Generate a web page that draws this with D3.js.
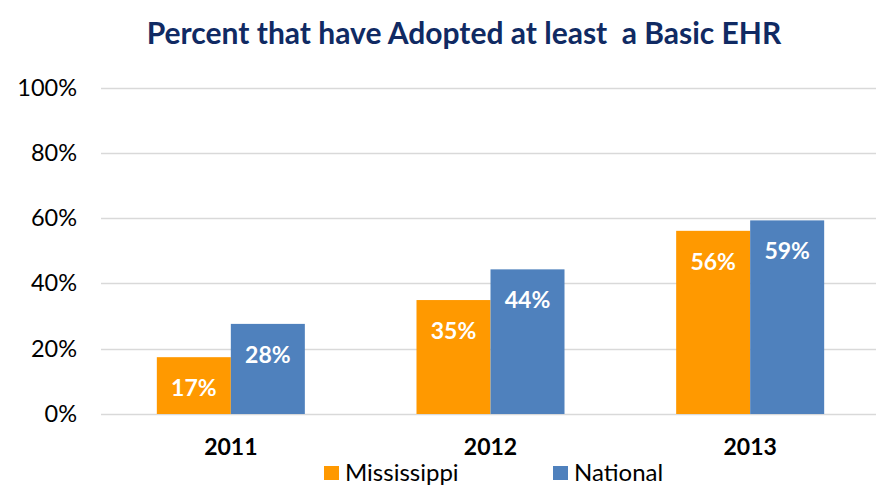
<!DOCTYPE html>
<html>
<head>
<meta charset="utf-8">
<script src="https://cdn.jsdelivr.net/npm/d3@7"></script>
<style>
  body { margin: 0; background: #fff; }
  svg { display: block; font-family: Lato, "Open Sans", sans-serif; }
</style>
</head>
<body>
<script>
const years = ["2011", "2012", "2013"];
const seriesNames = ["Mississippi", "National"];
const mississippi = [0.174, 0.349, 0.561];
const national = [0.276, 0.443, 0.593];
const yTicks = [0, 0.2, 0.4, 0.6, 0.8, 1.0];

const width = 876;
const height = 487;
const colors = { Mississippi: "#FF9900", National: "#4F81BD" };

const svg = d3.select("body")
    .append("svg")
    .attr("width", width)
    .attr("height", height);

const y = d3.scaleLinear()
    .domain([0, 1])
    .range([414, 87.5]);

const x0 = d3.scaleBand()
    .domain(years)
    .range([101, 880]);

const bw = x0.bandwidth();
const x1 = d3.scaleBand()
    .domain(seriesNames)
    .range([bw * 0.215, bw * 0.785]);

const rows = years.map((yr, i) => ({
    year: yr,
    values: [
        { name: "Mississippi", value: mississippi[i] },
        { name: "National", value: national[i] }
    ]
}));

// title
svg.append("text")
    .attr("x", 464)
    .attr("y", 44)
    .attr("text-anchor", "middle")
    .attr("font-size", 30)
    .attr("font-weight", "bold")
    .attr("fill", "#102A63")
    .attr("xml:space", "preserve")
    .text("Percent that have Adopted at least  a Basic EHR");

// gridlines
svg.append("g")
    .selectAll("line")
    .data(yTicks)
    .enter()
    .append("line")
    .attr("x1", 101)
    .attr("x2", width)
    .attr("y1", d => Math.round(y(d)) + 0.5)
    .attr("y2", d => Math.round(y(d)) + 0.5)
    .attr("stroke", "#D9D9D9")
    .attr("stroke-width", 1.5);

const yAxis = d3.axisLeft(y)
    .tickValues(yTicks)
    .tickFormat(d3.format(".0%"))
    .tickSize(0)
    .tickPadding(0);

svg.append("g")
    .attr("transform", "translate(77,0)")
    .call(yAxis)
    .call(g => g.select(".domain").remove())
    .call(g => g.selectAll("text")
        .attr("font-size", 23.5)
        .attr("font-family", "Lato, sans-serif")
        .attr("fill", "#000"));

const groups = svg.append("g")
    .selectAll("g")
    .data(rows)
    .enter()
    .append("g")
    .attr("transform", d => `translate(${x0(d.year)},0)`);

groups.selectAll("rect")
    .data(d => d.values)
    .enter()
    .append("rect")
    .attr("x", d => x1(d.name))
    .attr("y", d => y(d.value))
    .attr("width", x1.bandwidth())
    .attr("height", d => y(0) - y(d.value))
    .attr("fill", d => colors[d.name]);

groups.selectAll("text")
    .data(d => d.values)
    .enter()
    .append("text")
    .attr("x", d => x1(d.name) + x1.bandwidth() / 2)
    .attr("y", d => y(d.value) + 39)
    .attr("text-anchor", "middle")
    .attr("font-size", 23)
    .attr("font-weight", "bold")
    .attr("fill", "#fff")
    .text(d => d3.format(".0%")(d.value));

const xAxis = d3.axisBottom(x0).tickSize(0).tickPadding(0);
svg.append("g")
    .attr("transform", "translate(0,439)")
    .call(xAxis)
    .call(g => g.select(".domain").remove())
    .call(g => g.selectAll("text")
        .attr("dy", "0.71em")
        .attr("font-size", 23)
        .attr("font-weight", "bold")
        .attr("font-family", "Lato, sans-serif")
        .attr("fill", "#000"));

// legend (nudged up a little so the descenders stay inside the frame)
const legendX = { Mississippi: 324, National: 553 };
const legend = svg.append("g")
    .selectAll("g")
    .data(seriesNames)
    .enter()
    .append("g")
    .attr("transform", d => `translate(${legendX[d]},466)`);

legend.append("rect")
    .attr("width", 15)
    .attr("height", 14)
    .attr("fill", d => colors[d]);

legend.append("text")
    .attr("x", 21)
    .attr("y", 15)
    .attr("font-size", 24)
    .attr("fill", "#000")
    .text(d => d);
</script>
</body>
</html>
